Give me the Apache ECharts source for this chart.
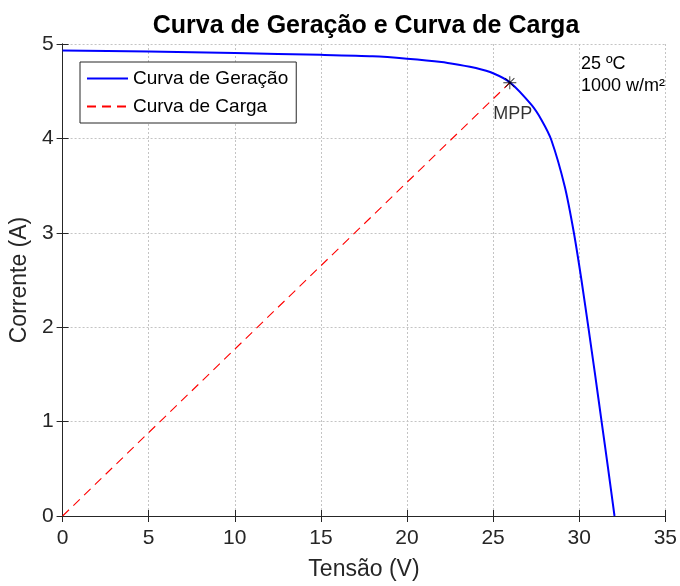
<!DOCTYPE html>
<html>
	<head>
		<meta charset="utf-8">
		<title>Curva de Geração e Curva de Carga</title>
		<script src="https://cdn.jsdelivr.net/npm/echarts@6/dist/echarts.min.js"></script>
	</head>
	<style type="text/css">
		body {
			margin: 0;
			background: #fff;
		}
	</style>
	<body>
		<div id="main" style="width: 680px;height:586px;"></div>

		<script type="text/javascript">
			// curva I-V do painel
			var genV = [0, 5, 10, 15, 18, 20, 22, 23, 24, 25, 26, 27.23, 27.81, 28.38, 29.16, 29.69, 30.13, 30.53, 30.92, 31.30, 31.68, 32.05];
			var genI = [4.93, 4.92, 4.905, 4.885, 4.87, 4.845, 4.81, 4.78, 4.745, 4.69, 4.59, 4.354, 4.195, 3.983, 3.49, 3.0, 2.5, 2.0, 1.5, 1.0, 0.5, 0];
			// reta de carga ate o MPP
			var loadV = [0, 25.97];
			var loadI = [0, 4.59];
			var mppV = 25.97;
			var mppI = 4.59;
			var xTicks = [0, 35, 5];
			var yTicks = [0, 5, 1];

			var fonte = 'Liberation Sans, Arial, Helvetica, sans-serif';
			var cinza = '#262626';

			function pares(a, b) {
				var out = [];
				for (var i = 0; i < a.length; i++) {
					out.push([a[i], b[i]]);
				}
				return out;
			}

			var asterisco = 'path://M9.3 0L10.7 0L10.7 20L9.3 20Z M0 9.3L20 9.3L20 10.7L0 10.7Z ' +
				'M2.5 3.5L3.5 2.5L17.5 16.5L16.5 17.5Z M16.5 2.5L17.5 3.5L3.5 17.5L2.5 16.5Z';

			var myChart = echarts.init(document.getElementById('main'));

			myChart.setOption({
				animation: false,
				backgroundColor: '#fff',
				title: {
					text: 'Curva de Geração e Curva de Carga',
					left: 361,
					top: 9,
					textAlign: 'center',
					textStyle: {
						fontFamily: fonte,
						fontSize: 25,
						fontWeight: 'bold',
						color: '#000'
					}
				},
				grid: {
					left: 62,
					right: 12,
					top: 44,
					bottom: 70
				},
				legend: {
					data: ['Curva de Geração', 'Curva de Carga'],
					orient: 'vertical',
					left: 80,
					top: 62,
					padding: [7, 8, 7, 6],
					itemWidth: 41,
					itemHeight: 14,
					itemGap: 9,
					itemStyle: { opacity: 0 },
					backgroundColor: '#fff',
					borderColor: cinza,
					borderWidth: 1,
					borderRadius: 0,
					textStyle: {
						fontFamily: fonte,
						fontSize: 19,
						color: '#000'
					}
				},
				xAxis: [{
					type: 'value',
					min: xTicks[0],
					max: xTicks[1],
					interval: xTicks[2],
					name: 'Tensão (V)',
					nameLocation: 'middle',
					nameGap: 42,
					nameTextStyle: { fontFamily: fonte, fontSize: 23, color: cinza },
					axisLine: { lineStyle: { color: cinza, width: 1 } },
					axisTick: { inside: true, length: 6, lineStyle: { color: cinza } },
					axisLabel: { fontFamily: fonte, fontSize: 21, color: cinza, margin: 12 },
					splitLine: { show: true, lineStyle: { color: '#c4c4c4', type: [2, 2], width: 1 } }
				}, {
					type: 'value',
					position: 'top',
					min: xTicks[0],
					max: xTicks[1],
					interval: xTicks[2],
					axisLine: { show: true, lineStyle: { color: cinza, width: 1 } },
					axisTick: { show: true, inside: true, length: 6, lineStyle: { color: cinza } },
					axisLabel: { show: false },
					splitLine: { show: false }
				}],
				yAxis: [{
					type: 'value',
					min: yTicks[0],
					max: yTicks[1],
					interval: yTicks[2],
					name: 'Corrente (A)',
					nameLocation: 'middle',
					nameGap: 23,
					nameTextStyle: { fontFamily: fonte, fontSize: 23, color: cinza },
					axisLine: { show: true, lineStyle: { color: cinza, width: 1 } },
					axisTick: { show: true, inside: true, length: 6, lineStyle: { color: cinza } },
					axisLabel: { fontFamily: fonte, fontSize: 21, color: cinza, margin: 9 },
					splitLine: { show: true, lineStyle: { color: '#c4c4c4', type: [2, 2], width: 1 } }
				}, {
					type: 'value',
					position: 'right',
					min: yTicks[0],
					max: yTicks[1],
					interval: yTicks[2],
					axisLine: { show: true, lineStyle: { color: cinza, width: 1 } },
					axisTick: { show: true, inside: true, length: 6, lineStyle: { color: cinza } },
					axisLabel: { show: false },
					splitLine: { show: false }
				}],
				series: [{
					name: 'Curva de Geração',
					type: 'line',
					data: pares(genV, genI),
					symbol: 'none',
					smooth: 0.2,
					lineStyle: { color: '#0000ff', width: 2 },
					itemStyle: { color: '#0000ff' },
					z: 3
				}, {
					name: 'Curva de Carga',
					type: 'line',
					data: pares(loadV, loadI),
					symbol: 'none',
					lineStyle: { color: '#ff0000', width: 1.1, type: [9, 6] },
					itemStyle: { color: '#ff0000' },
					z: 2
				}, {
					name: 'MPP',
					type: 'scatter',
					data: [[mppV, mppI]],
					symbol: asterisco,
					symbolSize: 13,
					itemStyle: { color: '#000' },
					label: {
						show: true,
						formatter: 'MPP',
						position: [-10, 29],
						fontFamily: fonte,
						fontSize: 18,
						color: '#000'
					},
					z: 4
				}],
				graphic: [{
					type: 'text',
					left: 581,
					top: 55,
					style: { text: '25 ºC', fontFamily: fonte, fontSize: 18, fill: '#000' }
				}, {
					type: 'text',
					left: 581,
					top: 77,
					style: { text: '1000 w/m²', fontFamily: fonte, fontSize: 18, fill: '#000' }
				}]
			});
		</script>
	</body>
</html>
